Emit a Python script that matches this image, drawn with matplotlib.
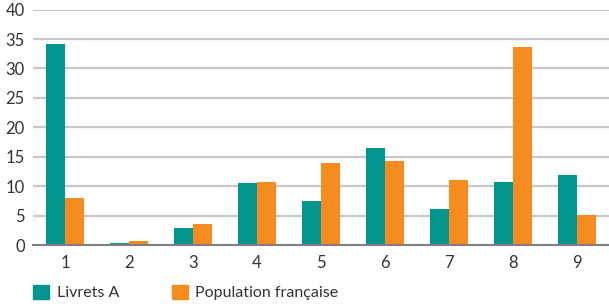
import matplotlib.pyplot as plt
import numpy as np
from matplotlib.patches import Patch

categories = ['1', '2', '3', '4', '5', '6', '7', '8', '9']
livrets_a = [34.2, 0.3, 2.9, 10.5, 7.5, 16.5, 6.1, 10.7, 11.9]
population = [8.0, 0.7, 3.6, 10.7, 13.9, 14.3, 11.1, 33.7, 5.1]
series_names = ['Livrets A', 'Population française']

teal = '#00968f'
orange = '#f68b1f'
plt.rcParams['font.family'] = ['Lato', 'DejaVu Sans']

fig = plt.figure(figsize=(6.09, 3.04), dpi=100)
ax = fig.add_axes([33 / 609, 1 - 245 / 304, (609 - 33) / 609, (245 - 9.6) / 304])

x = np.arange(len(categories))
w = 0.29
ax.bar(x - w / 2, livrets_a, width=w, color=teal, zorder=3)
ax.bar(x + w / 2, population, width=w, color=orange, zorder=3)

ax.set_xlim(-0.5, len(categories) - 0.5)
ax.set_ylim(0, 40)
ax.set_yticks(range(0, 41, 5))
ax.set_xticks(x)
ax.set_xticklabels(categories)
ax.grid(axis='y', color='#c8c8c8', linewidth=1.6, zorder=0)
for s in ['top', 'right', 'left']:
    ax.spines[s].set_visible(False)
ax.spines['bottom'].set_color('#808080')
ax.spines['bottom'].set_linewidth(1.5)
ax.spines['bottom'].set_zorder(4)
ax.tick_params(length=0, labelsize=12, colors='#333333')
ax.tick_params(axis='y', pad=6)
ax.tick_params(axis='x', pad=7)

handles = [Patch(color=teal), Patch(color=orange)]
fig.legend(handles, series_names, loc='lower left', bbox_to_anchor=(19 / 609, -0.035),
           ncol=2, frameon=False, fontsize=11.5, handlelength=1.0, handleheight=1.0,
           handletextpad=0.45, columnspacing=3.3, labelcolor='#333333')

fig.savefig('out.png', dpi=100)
